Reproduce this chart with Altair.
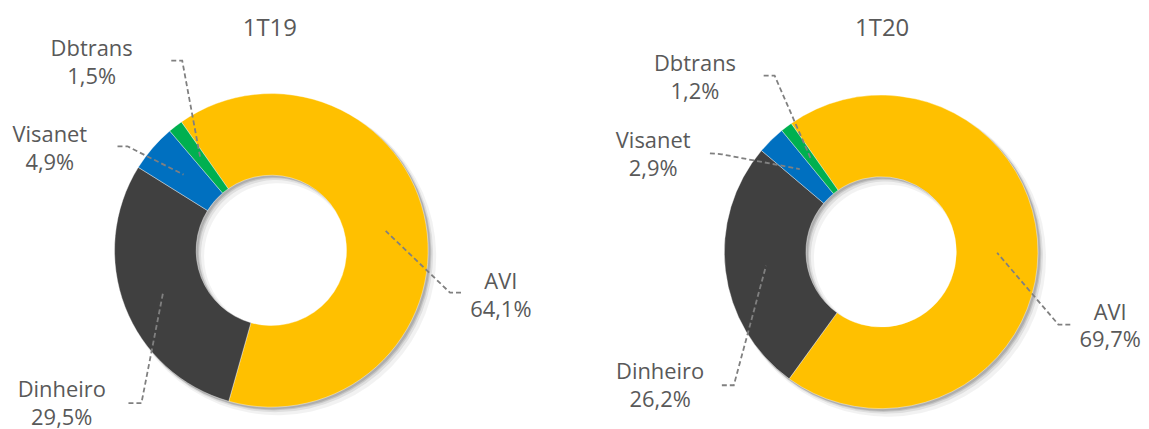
import math
import altair as alt
import pandas as pd

# ---------------- data ----------------
panels = ["1T19", "1T20"]
categories = ["AVI", "Dinheiro", "Visanet", "Dbtrans"]
values_1T19 = [64.1, 29.5, 4.9, 1.5]
values_1T20 = [69.7, 26.2, 2.9, 1.2]
colors = ["#FFC000", "#404040", "#0070C0", "#00B050"]

# ---------------- layout (page pixel coordinates) ----------------
W, H = 1133, 413
centers = {"1T19": (272.5, 250.5), "1T20": (885.0, 252.0)}
R_OUT, R_IN = 157.5, 75.5
START_DEG = -35.0
title_pos = {"1T19": (271, 35), "1T20": (886, 35)}
label_pos = {  # centre x, baseline of first line
    "1T19": {"AVI": (503, 289), "Dinheiro": (62, 398), "Visanet": (50, 142), "Dbtrans": (92, 55)},
    "1T20": {"AVI": (1115, 320), "Dinheiro": (663, 380), "Visanet": (656, 148), "Dbtrans": (698, 70)},
}
leader_pos = {  # label end, elbow
    "1T19": {"AVI": [(463, 293), (452, 293)], "Dinheiro": [(129, 404), (142, 404)],
             "Visanet": [(118, 146), (128, 146)], "Dbtrans": [(172, 60), (183, 60)]},
    "1T20": {"AVI": [(1075, 325), (1063, 325)], "Dinheiro": [(725, 386), (737, 386)],
             "Visanet": [(713, 153), (725, 154)], "Dbtrans": [(767, 75), (778, 75)]},
}
FONT = "Open Sans"
TXT = "#595959"

values = {"1T19": values_1T19, "1T20": values_1T20}

arc_rows, shadow_rows, text_rows, line_rows, title_rows = [], [], [], [], []
start_rad = math.radians(START_DEG)
for p in panels:
    cx, cy = centers[p]
    cum = 0.0
    shadow_rows.append({"panel": p, "cx": cx, "cy": cy, "t0": 0.0, "t1": 100.0})
    title_rows.append({"x": title_pos[p][0], "y": title_pos[p][1], "text": p})
    for i, (c, v) in enumerate(zip(categories, values[p])):
        t0, t1 = cum, cum + v
        cum = t1
        arc_rows.append({"panel": p, "category": c, "value": v, "t0": t0, "t1": t1,
                         "cx": cx, "cy": cy, "order": i})
        lx, ly = label_pos[p][c]
        pct = f"{v:.1f}".replace(".", ",") + "%"
        text_rows.append({"x": lx, "y": ly, "text": c})
        text_rows.append({"x": lx, "y": ly + 28, "text": pct})
        mid = start_rad + 2 * math.pi * (t0 + t1) / 200.0
        rm = (R_OUT + R_IN) / 2
        px, py = cx + rm * math.sin(mid), cy - rm * math.cos(mid)
        pts = leader_pos[p][c] + [(px, py)]
        for k, (x, y) in enumerate(pts):
            line_rows.append({"id": f"{p}-{c}", "k": k, "x": x, "y": y})

arc_df = pd.DataFrame(arc_rows)
shadow_df = pd.DataFrame(shadow_rows)
text_df = pd.DataFrame(text_rows)
line_df = pd.DataFrame(line_rows)
title_df = pd.DataFrame(title_rows)

xs = alt.Scale(domain=[8, 8 + W])
ys = alt.Scale(domain=[8, 8 + H], reverse=True)
ts = alt.Scale(domain=[0, 100], range=[start_rad + 2 * math.pi, start_rad + 4 * math.pi])


def shadow(off, op, dr):
    return alt.Chart(shadow_df).transform_calculate(
        sx=f"datum.cx + {off}", sy=f"datum.cy + {off}"
    ).mark_arc(outerRadius=R_OUT + dr, innerRadius=R_IN - dr, color="#000000", opacity=op).encode(
        x=alt.X("sx:Q", scale=xs, axis=None),
        y=alt.Y("sy:Q", scale=ys, axis=None),
        theta=alt.Theta("t0:Q", scale=ts),
        theta2="t1:Q",
    )


arcs = alt.Chart(arc_df).mark_arc(outerRadius=R_OUT, innerRadius=R_IN, stroke="#ffffff",
                                  strokeWidth=0.4).encode(
    x=alt.X("cx:Q", scale=xs, axis=None),
    y=alt.Y("cy:Q", scale=ys, axis=None),
    theta=alt.Theta("t0:Q", scale=ts),
    theta2="t1:Q",
    color=alt.Color("category:N", scale=alt.Scale(domain=categories, range=colors), legend=None),
    order=alt.Order("order:Q"),
)

lines = alt.Chart(line_df).mark_line(color="#808080", strokeWidth=1.8, strokeDash=[5, 3]).encode(
    x=alt.X("x:Q", scale=xs, axis=None),
    y=alt.Y("y:Q", scale=ys, axis=None),
    detail="id:N",
    order="k:Q",
)

labels = alt.Chart(text_df).mark_text(font=FONT, fontSize=22, color=TXT, align="center",
                                      baseline="alphabetic").encode(
    x=alt.X("x:Q", scale=xs, axis=None),
    y=alt.Y("y:Q", scale=ys, axis=None),
    text="text:N",
)

titles = alt.Chart(title_df).mark_text(font=FONT, fontSize=24, color=TXT, align="center",
                                       baseline="alphabetic").encode(
    x=alt.X("x:Q", scale=xs, axis=None),
    y=alt.Y("y:Q", scale=ys, axis=None),
    text="text:N",
)

chart = alt.layer(
    shadow(6, 0.05, 2), shadow(4, 0.08, 1), shadow(3, 0.11, 0), shadow(2, 0.12, 0),
    arcs, lines, labels, titles
).properties(width=W, height=H, padding=0).configure_view(stroke=None)

chart.save("out.html", embed_options={"renderer": "svg", "actions": False})
